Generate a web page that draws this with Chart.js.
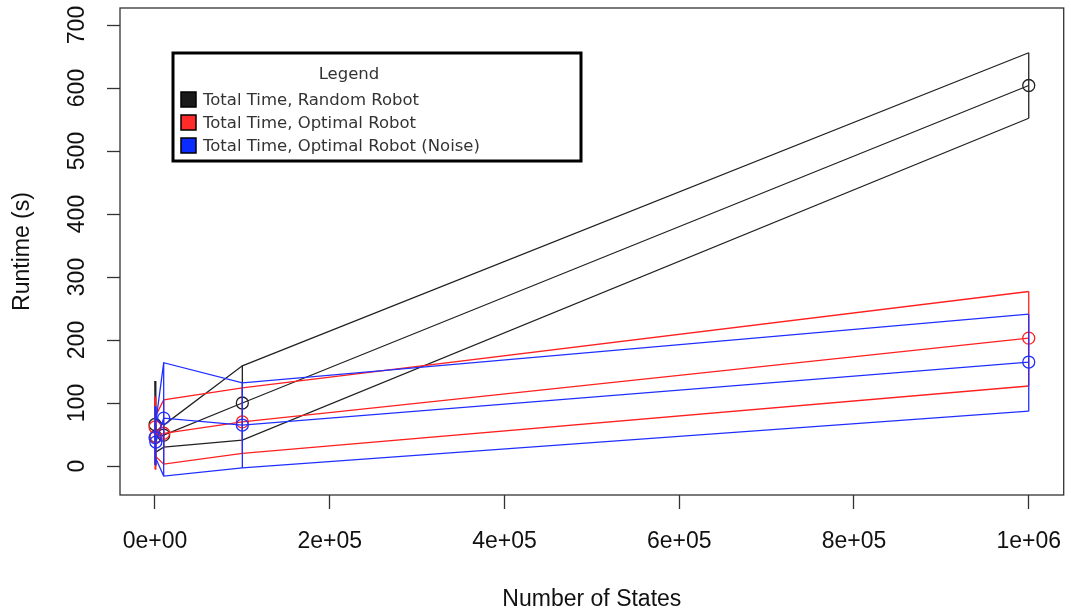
<!DOCTYPE html>
<html>
<head>
<meta charset="utf-8">
<script src="https://cdn.jsdelivr.net/npm/chart.js@4.4.1/dist/chart.umd.min.js"></script>
<style>
    body { margin: 0; background: #fff; }
    canvas { display: block; }
</style>
</head>
<body>
<canvas id="runtimeChart" width="1071" height="614"></canvas>
<script>
// x positions (number of states)
const states = [100, 1000, 10000, 100000, 1000000];

// Total Time, Random Robot
const randomMean = [66, 47, 49, 100, 604];
const randomLow = [2, 22, 30, 41, 552];
const randomHigh = [135, 75, 65, 159, 656];

// Total Time, Optimal Robot
const optimalMean = [62, 46, 52, 70, 203];
const optimalLow = [-5, 15, 3, 20, 127];
const optimalHigh = [110, 80, 105, 124, 277];

// Total Time, Optimal Robot (Noise)
const noiseMean = [45, 38, 76, 65, 165];
const noiseLow = [2, 12, -16, -3, 87];
const noiseHigh = [95, 70, 164, 132, 241];

const seriesNames = ['Total Time, Random Robot', 'Total Time, Optimal Robot', 'Total Time, Optimal Robot (Noise)'];
const seriesColors = ['#222222', '#ff2020', '#1f2fff'];
const legendFill = ['#1a1a1a', '#ff2a2a', '#0a2cff'];

const xTicks = [0, 200000, 400000, 600000, 800000, 1000000];
const xTickLabels = ['0e+00', '2e+05', '4e+05', '6e+05', '8e+05', '1e+06'];

const axisFont = "'Liberation Sans', Arial, sans-serif";

const toPoints = (ys) => states.map((x, i) => ({ x: x, y: ys[i] }));

// vertical bars low..high at each x, broken with nulls
const toBars = (lo, hi) => states.flatMap((x, i) => [{ x: x, y: lo[i] }, { x: x, y: hi[i] }, { x: x, y: null }]);

const makeSeries = (color, mean, lo, hi, order) => {
    const base = { borderColor: color, borderWidth: 1.3, pointRadius: 0, showLine: true, fill: false, order: order };
    return [
        Object.assign({}, base, {
            data: toPoints(mean),
            pointRadius: 6,
            pointBorderColor: color,
            pointBackgroundColor: 'rgba(0,0,0,0)',
            pointBorderWidth: 1.3
        }),
        Object.assign({}, base, { data: toPoints(lo) }),
        Object.assign({}, base, { data: toPoints(hi) }),
        Object.assign({}, base, { data: toBars(lo, hi), spanGaps: false })
    ];
};

// box, rotated y labels and legend box
const decorations = {
    id: 'decorations',
    afterDraw(chart) {
        const ctx = chart.ctx;
        const area = chart.chartArea;
        const y = chart.scales.y;
        ctx.save();
        ctx.strokeStyle = '#333';
        ctx.lineWidth = 1.3;
        ctx.strokeRect(area.left, area.top, area.right - area.left, area.bottom - area.top);

        ctx.fillStyle = '#111';
        ctx.font = '23px ' + axisFont;
        ctx.textAlign = 'center';
        ctx.textBaseline = 'middle';
        y.ticks.forEach(t => {
            ctx.save();
            ctx.translate(area.left - 42, y.getPixelForValue(t.value));
            ctx.rotate(-Math.PI / 2);
            ctx.fillText(String(t.value), 0, 0);
            ctx.restore();
        });

        // legend
        const lx = area.left + 53, ly = area.top + 45, lw = 408, lh = 108;
        ctx.fillStyle = '#fff';
        ctx.fillRect(lx, ly, lw, lh);
        ctx.lineWidth = 3;
        ctx.strokeStyle = '#000';
        ctx.strokeRect(lx, ly, lw, lh);
        ctx.font = "16.5px 'DejaVu Sans', Verdana, sans-serif";
        ctx.fillStyle = '#333';
        ctx.textAlign = 'center';
        ctx.fillText('Legend', lx + 176, ly + 21.5);
        ctx.textAlign = 'left';
        seriesNames.forEach((name, i) => {
            const ry = ly + 46 + i * 23;
            ctx.fillStyle = legendFill[i];
            ctx.fillRect(lx + 8, ry - 7, 15, 15);
            ctx.lineWidth = 1.5;
            ctx.strokeStyle = '#000';
            ctx.strokeRect(lx + 8, ry - 7, 15, 15);
            ctx.fillStyle = '#333';
            ctx.fillText(name, lx + 30, ry + 1.5);
        });
        ctx.restore();
    }
};

document.addEventListener('DOMContentLoaded', () => {
    const ctx = document.getElementById('runtimeChart').getContext('2d');

    const datasets = [].concat(
        makeSeries(seriesColors[0], randomMean, randomLow, randomHigh, 3),
        makeSeries(seriesColors[1], optimalMean, optimalLow, optimalHigh, 2),
        makeSeries(seriesColors[2], noiseMean, noiseLow, noiseHigh, 1)
    );

    new Chart(ctx, {
        type: 'scatter',
        data: { datasets: datasets },
        options: {
            responsive: false,
            animation: false,
            devicePixelRatio: 1,
            layout: { padding: { top: 8, right: 4, left: 0, bottom: 0 } },
            scales: {
                x: {
                    type: 'linear',
                    min: -40000,
                    max: 1040000,
                    afterFit: (scale) => {
                        scale.height = 119;
                        scale.paddingLeft = 0;
                        scale.paddingRight = 0;
                    },
                    afterBuildTicks: (scale) => { scale.ticks = xTicks.map(v => ({ value: v })); },
                    border: { display: false },
                    grid: { drawOnChartArea: false, drawTicks: true, tickLength: 14, tickColor: '#333', tickWidth: 1.3 },
                    ticks: {
                        padding: 19,
                        color: '#111',
                        maxRotation: 0,
                        autoSkip: false,
                        font: { family: axisFont, size: 23 },
                        callback: (value) => xTickLabels[xTicks.indexOf(value)]
                    },
                    title: {
                        display: true,
                        text: 'Number of States',
                        color: '#111',
                        font: { family: axisFont, size: 23 },
                        padding: { top: 0, bottom: 1 }
                    }
                },
                y: {
                    type: 'linear',
                    min: -46,
                    max: 727,
                    afterFit: (scale) => {
                        scale.width = 120;
                        scale.paddingTop = 0;
                        scale.paddingBottom = 0;
                    },
                    border: { display: false },
                    grid: { drawOnChartArea: false, drawTicks: true, tickLength: 13, tickColor: '#333', tickWidth: 1.3 },
                    ticks: {
                        display: false,
                        stepSize: 100,
                        includeBounds: false
                    },
                    title: {
                        display: true,
                        text: 'Runtime (s)',
                        color: '#111',
                        font: { family: axisFont, size: 23 },
                        padding: { top: 9, bottom: 0 }
                    }
                }
            },
            plugins: {
                legend: { display: false },
                tooltip: { enabled: false }
            }
        },
        plugins: [decorations]
    });
});
</script>
</body>
</html>
